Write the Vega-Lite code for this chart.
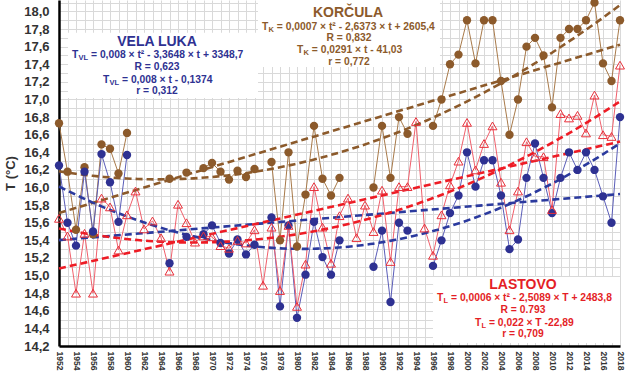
{
  "$schema": "https://vega.github.io/schema/vega-lite/v6.json",
  "width": 561,
  "height": 346,
  "autosize": {"type": "none"},
  "padding": {"left": 59, "top": 0, "right": 7, "bottom": 30},
  "background": "white",
  "config": {
    "view": {"stroke": null},
    "font": "Liberation Sans",
    "axis": {"gridColor": "#d9d9d9", "gridWidth": 1, "ticks": false, "domainColor": "#000000", "domainWidth": 2.5}
  },
  "datasets": {
    "temps": [
      {"year":1952,"station":"Korčula","T":16.73},{"year":1953,"station":"Korčula","T":16.18},{"year":1954,"station":"Korčula","T":15.52},{"year":1955,"station":"Korčula","T":16.23},{"year":1956,"station":"Korčula","T":15.47},{"year":1957,"station":"Korčula","T":16.49},{"year":1958,"station":"Korčula","T":16.44},{"year":1959,"station":"Korčula","T":16.16},{"year":1960,"station":"Korčula","T":16.62},
      {"year":1961,"station":"Korčula","T":null},{"year":1962,"station":"Korčula","T":null},{"year":1963,"station":"Korčula","T":null},{"year":1964,"station":"Korčula","T":null},
      {"year":1965,"station":"Korčula","T":16.10},{"year":1966,"station":"Korčula","T":null},{"year":1967,"station":"Korčula","T":16.17},{"year":1968,"station":"Korčula","T":null},{"year":1969,"station":"Korčula","T":16.22},{"year":1970,"station":"Korčula","T":16.28},{"year":1971,"station":"Korčula","T":16.18},{"year":1972,"station":"Korčula","T":16.09},{"year":1973,"station":"Korčula","T":16.19},{"year":1974,"station":"Korčula","T":16.12},{"year":1975,"station":"Korčula","T":16.21},{"year":1976,"station":"Korčula","T":null},{"year":1977,"station":"Korčula","T":16.29},{"year":1978,"station":"Korčula","T":15.40},{"year":1979,"station":"Korčula","T":16.40},{"year":1980,"station":"Korčula","T":15.33},{"year":1981,"station":"Korčula","T":15.92},{"year":1982,"station":"Korčula","T":16.70},{"year":1983,"station":"Korčula","T":16.10},{"year":1984,"station":"Korčula","T":15.91},{"year":1985,"station":"Korčula","T":16.11},
      {"year":1986,"station":"Korčula","T":null},{"year":1987,"station":"Korčula","T":null},{"year":1988,"station":"Korčula","T":null},
      {"year":1989,"station":"Korčula","T":16.00},{"year":1990,"station":"Korčula","T":16.70},{"year":1991,"station":"Korčula","T":16.11},{"year":1992,"station":"Korčula","T":16.80},{"year":1993,"station":"Korčula","T":16.61},{"year":1994,"station":"Korčula","T":null},{"year":1995,"station":"Korčula","T":null},{"year":1996,"station":"Korčula","T":16.70},{"year":1997,"station":"Korčula","T":17.00},{"year":1998,"station":"Korčula","T":17.40},{"year":1999,"station":"Korčula","T":17.51},{"year":2000,"station":"Korčula","T":17.90},{"year":2001,"station":"Korčula","T":17.41},{"year":2002,"station":"Korčula","T":17.90},{"year":2003,"station":"Korčula","T":17.90},{"year":2004,"station":"Korčula","T":17.21},{"year":2005,"station":"Korčula","T":16.60},{"year":2006,"station":"Korčula","T":17.00},{"year":2007,"station":"Korčula","T":17.60},{"year":2008,"station":"Korčula","T":17.70},{"year":2009,"station":"Korčula","T":17.50},{"year":2010,"station":"Korčula","T":16.91},{"year":2011,"station":"Korčula","T":17.70},{"year":2012,"station":"Korčula","T":17.80},{"year":2013,"station":"Korčula","T":17.80},{"year":2014,"station":"Korčula","T":17.90},{"year":2015,"station":"Korčula","T":18.10},{"year":2016,"station":"Korčula","T":17.41},{"year":2017,"station":"Korčula","T":17.21},{"year":2018,"station":"Korčula","T":17.90},

      {"year":1952,"station":"Vela Luka","T":16.25},{"year":1953,"station":"Vela Luka","T":15.60},{"year":1954,"station":"Vela Luka","T":15.34},{"year":1955,"station":"Vela Luka","T":16.18},{"year":1956,"station":"Vela Luka","T":15.50},{"year":1957,"station":"Vela Luka","T":16.38},{"year":1958,"station":"Vela Luka","T":16.06},{"year":1959,"station":"Vela Luka","T":15.61},{"year":1960,"station":"Vela Luka","T":16.37},
      {"year":1961,"station":"Vela Luka","T":null},{"year":1962,"station":"Vela Luka","T":null},{"year":1963,"station":"Vela Luka","T":null},{"year":1964,"station":"Vela Luka","T":null},
      {"year":1965,"station":"Vela Luka","T":15.14},{"year":1966,"station":"Vela Luka","T":null},{"year":1967,"station":"Vela Luka","T":15.44},{"year":1968,"station":"Vela Luka","T":null},{"year":1969,"station":"Vela Luka","T":15.47},{"year":1970,"station":"Vela Luka","T":15.57},{"year":1971,"station":"Vela Luka","T":15.37},{"year":1972,"station":"Vela Luka","T":15.25},{"year":1973,"station":"Vela Luka","T":15.41},{"year":1974,"station":"Vela Luka","T":15.24},{"year":1975,"station":"Vela Luka","T":15.35},{"year":1976,"station":"Vela Luka","T":null},{"year":1977,"station":"Vela Luka","T":15.66},{"year":1978,"station":"Vela Luka","T":14.65},{"year":1979,"station":"Vela Luka","T":15.57},{"year":1980,"station":"Vela Luka","T":14.52},{"year":1981,"station":"Vela Luka","T":15.01},{"year":1982,"station":"Vela Luka","T":15.61},{"year":1983,"station":"Vela Luka","T":15.21},{"year":1984,"station":"Vela Luka","T":15.01},{"year":1985,"station":"Vela Luka","T":15.40},
      {"year":1986,"station":"Vela Luka","T":null},{"year":1987,"station":"Vela Luka","T":null},{"year":1988,"station":"Vela Luka","T":null},
      {"year":1989,"station":"Vela Luka","T":15.10},{"year":1990,"station":"Vela Luka","T":15.51},{"year":1991,"station":"Vela Luka","T":14.70},{"year":1992,"station":"Vela Luka","T":15.60},{"year":1993,"station":"Vela Luka","T":15.51},{"year":1994,"station":"Vela Luka","T":null},{"year":1995,"station":"Vela Luka","T":null},{"year":1996,"station":"Vela Luka","T":15.11},{"year":1997,"station":"Vela Luka","T":15.40},{"year":1998,"station":"Vela Luka","T":15.71},{"year":1999,"station":"Vela Luka","T":15.91},{"year":2000,"station":"Vela Luka","T":16.40},{"year":2001,"station":"Vela Luka","T":16.01},{"year":2002,"station":"Vela Luka","T":16.31},{"year":2003,"station":"Vela Luka","T":16.31},{"year":2004,"station":"Vela Luka","T":15.91},{"year":2005,"station":"Vela Luka","T":15.30},{"year":2006,"station":"Vela Luka","T":15.41},{"year":2007,"station":"Vela Luka","T":16.11},{"year":2008,"station":"Vela Luka","T":16.50},{"year":2009,"station":"Vela Luka","T":16.11},{"year":2010,"station":"Vela Luka","T":15.71},{"year":2011,"station":"Vela Luka","T":16.11},{"year":2012,"station":"Vela Luka","T":16.40},{"year":2013,"station":"Vela Luka","T":16.20},{"year":2014,"station":"Vela Luka","T":16.40},{"year":2015,"station":"Vela Luka","T":16.20},{"year":2016,"station":"Vela Luka","T":15.90},{"year":2017,"station":"Vela Luka","T":15.60},{"year":2018,"station":"Vela Luka","T":16.80},

      {"year":1952,"station":"Lastovo","T":15.65},{"year":1953,"station":"Lastovo","T":15.45},{"year":1954,"station":"Lastovo","T":14.80},{"year":1955,"station":"Lastovo","T":15.48},{"year":1956,"station":"Lastovo","T":14.80},{"year":1957,"station":"Lastovo","T":15.88},{"year":1958,"station":"Lastovo","T":15.78},{"year":1959,"station":"Lastovo","T":15.29},{"year":1960,"station":"Lastovo","T":15.69},{"year":1961,"station":"Lastovo","T":15.96},{"year":1962,"station":"Lastovo","T":15.53},{"year":1963,"station":"Lastovo","T":15.62},{"year":1964,"station":"Lastovo","T":15.43},{"year":1965,"station":"Lastovo","T":15.05},{"year":1966,"station":"Lastovo","T":15.81},{"year":1967,"station":"Lastovo","T":15.60},{"year":1968,"station":"Lastovo","T":15.38},{"year":1969,"station":"Lastovo","T":15.45},{"year":1970,"station":"Lastovo","T":15.44},{"year":1971,"station":"Lastovo","T":15.34},{"year":1972,"station":"Lastovo","T":15.31},{"year":1973,"station":"Lastovo","T":15.40},{"year":1974,"station":"Lastovo","T":15.37},{"year":1975,"station":"Lastovo","T":15.52},{"year":1976,"station":"Lastovo","T":14.89},{"year":1977,"station":"Lastovo","T":15.55},{"year":1978,"station":"Lastovo","T":14.83},{"year":1979,"station":"Lastovo","T":15.57},{"year":1980,"station":"Lastovo","T":14.65},{"year":1981,"station":"Lastovo","T":15.13},{"year":1982,"station":"Lastovo","T":16.01},{"year":1983,"station":"Lastovo","T":15.55},{"year":1984,"station":"Lastovo","T":15.14},{"year":1985,"station":"Lastovo","T":15.68},{"year":1986,"station":"Lastovo","T":15.88},{"year":1987,"station":"Lastovo","T":15.43},{"year":1988,"station":"Lastovo","T":15.80},{"year":1989,"station":"Lastovo","T":15.50},{"year":1990,"station":"Lastovo","T":15.97},{"year":1991,"station":"Lastovo","T":15.16},{"year":1992,"station":"Lastovo","T":16.01},{"year":1993,"station":"Lastovo","T":16.01},{"year":1994,"station":"Lastovo","T":16.75},{"year":1995,"station":"Lastovo","T":15.54},{"year":1996,"station":"Lastovo","T":15.23},{"year":1997,"station":"Lastovo","T":15.69},{"year":1998,"station":"Lastovo","T":16.03},{"year":1999,"station":"Lastovo","T":16.30},{"year":2000,"station":"Lastovo","T":16.74},{"year":2001,"station":"Lastovo","T":16.20},{"year":2002,"station":"Lastovo","T":16.50},{"year":2003,"station":"Lastovo","T":16.70},{"year":2004,"station":"Lastovo","T":16.06},{"year":2005,"station":"Lastovo","T":15.52},{"year":2006,"station":"Lastovo","T":15.96},{"year":2007,"station":"Lastovo","T":16.52},{"year":2008,"station":"Lastovo","T":16.35},{"year":2009,"station":"Lastovo","T":16.35},{"year":2010,"station":"Lastovo","T":15.75},{"year":2011,"station":"Lastovo","T":16.84},{"year":2012,"station":"Lastovo","T":16.79},{"year":2013,"station":"Lastovo","T":16.82},{"year":2014,"station":"Lastovo","T":16.62},{"year":2015,"station":"Lastovo","T":17.05},{"year":2016,"station":"Lastovo","T":16.60},{"year":2017,"station":"Lastovo","T":16.58},{"year":2018,"station":"Lastovo","T":17.39}
    ],
    "boxes": [
      {"year":1953.06,"year2":1975.41,"T":17.757,"T2":17.018},
      {"year":1975.41,"year2":1996.82,"T":18.13,"T2":17.37},
      {"year":1996.0,"year2":2018.0,"T":14.984,"T2":14.234}
    ],
    "labels": [
      {"station":"Vela Luka","kind":"title","text":"VELA LUKA","year":1963.529,"T":17.6545},
      {"station":"Vela Luka","kind":"left","text":"T","year":1953.529,"T":17.5068},
      {"station":"Vela Luka","kind":"sub","text":"VL","year":1954.294,"T":17.5068},
      {"station":"Vela Luka","kind":"left","text":"= 0,008 × t² - 3,3648 × t + 3348,7","year":1955.765,"T":17.5068},
      {"station":"Vela Luka","kind":"center","text":"R = 0,623","year":1963.529,"T":17.3705},
      {"station":"Vela Luka","kind":"left","text":"T","year":1957.176,"T":17.2227},
      {"station":"Vela Luka","kind":"sub","text":"VL","year":1957.941,"T":17.2227},
      {"station":"Vela Luka","kind":"left","text":"= 0,008 × t - 0,1374","year":1959.412,"T":17.2227},
      {"station":"Vela Luka","kind":"center","text":"r = 0,312","year":1963.529,"T":17.0977},
      {"station":"Korčula","kind":"title","text":"KORČULA","year":1986.0,"T":17.984},
      {"station":"Korčula","kind":"left","text":"T","year":1975.882,"T":17.825},
      {"station":"Korčula","kind":"sub","text":"K","year":1976.647,"T":17.825},
      {"station":"Korčula","kind":"left","text":"= 0,0007 × t² - 2,6373 × t + 2605,4","year":1977.624,"T":17.825},
      {"station":"Korčula","kind":"center","text":"R = 0,832","year":1986.118,"T":17.7},
      {"station":"Korčula","kind":"left","text":"T","year":1980.0,"T":17.5636},
      {"station":"Korčula","kind":"sub","text":"K","year":1980.765,"T":17.5636},
      {"station":"Korčula","kind":"left","text":"= 0,0291 × t - 41,03","year":1981.741,"T":17.5636},
      {"station":"Korčula","kind":"center","text":"r = 0,772","year":1986.118,"T":17.4273},
      {"station":"Lastovo","kind":"title","text":"LASTOVO","year":2006.588,"T":14.893},
      {"station":"Lastovo","kind":"left","text":"T","year":1996.471,"T":14.745},
      {"station":"Lastovo","kind":"sub","text":"L","year":1997.235,"T":14.745},
      {"station":"Lastovo","kind":"left","text":"= 0,0006 × t² - 2,5089 × T + 2483,8","year":1998.118,"T":14.745},
      {"station":"Lastovo","kind":"center","text":"R = 0.793","year":2006.588,"T":14.609},
      {"station":"Lastovo","kind":"left","text":"T","year":2000.941,"T":14.461},
      {"station":"Lastovo","kind":"sub","text":"L","year":2001.706,"T":14.461},
      {"station":"Lastovo","kind":"left","text":"= 0,022 × T -22,89","year":2002.588,"T":14.461},
      {"station":"Lastovo","kind":"center","text":"r = 0,709","year":2006.588,"T":14.336}
    ]
  },
  "encoding": {
    "x": {
      "field": "year", "type": "quantitative",
      "scale": {"domain": [1952, 2018], "nice": false, "zero": false},
      "axis": {
        "title": null,
        "values": [1952,1953,1954,1955,1956,1957,1958,1959,1960,1961,1962,1963,1964,1965,1966,1967,1968,1969,1970,1971,1972,1973,1974,1975,1976,1977,1978,1979,1980,1981,1982,1983,1984,1985,1986,1987,1988,1989,1990,1991,1992,1993,1994,1995,1996,1997,1998,1999,2000,2001,2002,2003,2004,2005,2006,2007,2008,2009,2010,2011,2012,2013,2014,2015,2016,2017,2018],
        "labelExpr": "datum.value % 2 == 0 ? '' + datum.value : ''",
        "labelAngle": 90, "labelAlign": "left", "labelBaseline": "middle",
        "labelFontSize": 8.5, "labelFontWeight": "bold", "labelColor": "#333333",
        "labelPadding": 5, "labelOverlap": false, "labelFlush": false, "grid": true
      }
    },
    "y": {
      "field": "T", "type": "quantitative",
      "scale": {"domain": [14.2, 18.13], "nice": false, "zero": false},
      "axis": {
        "title": "T (°C)", "titleFontSize": 13, "titleFontWeight": "bold", "titleColor": "#333333", "titlePadding": 6,
        "values": [14.2,14.3,14.4,14.5,14.6,14.7,14.8,14.9,15.0,15.1,15.2,15.3,15.4,15.5,15.6,15.7,15.8,15.9,16.0,16.1,16.2,16.3,16.4,16.5,16.6,16.7,16.8,16.9,17.0,17.1,17.2,17.3,17.4,17.5,17.6,17.7,17.8,17.9,18.0,18.1],
        "labelExpr": "round(datum.value * 10) % 2 == 0 ? replace(format(datum.value, '.1f'), '.', ',') : ''",
        "labelFontSize": 13, "labelFontWeight": "bold", "labelColor": "#333333",
        "labelPadding": 10, "labelOverlap": false, "labelFlush": false, "grid": true
      }
    }
  },
  "layer": [
    {
      "data": {"name": "boxes"},
      "mark": {"type": "rect", "fill": "white", "stroke": null},
      "encoding": {"x2": {"field": "year2"}, "y2": {"field": "T2"}}
    },
    {
      "data": {"name": "temps"},
      "transform": [{"filter": "datum.station == 'Korčula'"}],
      "mark": {"type": "line", "color": "#a87a4a", "strokeWidth": 1, "invalid": "break-paths-filter-domains"}
    },
    {
      "data": {"name": "temps"},
      "transform": [{"filter": "datum.station == 'Vela Luka'"}],
      "mark": {"type": "line", "color": "#5a5db8", "strokeWidth": 1, "invalid": "break-paths-filter-domains"}
    },
    {
      "data": {"name": "temps"},
      "transform": [{"filter": "datum.station == 'Lastovo'"}],
      "mark": {"type": "line", "color": "#f0606c", "strokeWidth": 1, "invalid": "break-paths-filter-domains"}
    },
    {
      "data": {"name": "temps"},
      "transform": [{"filter": "datum.station == 'Korčula' && isValid(datum.T)"}, {"regression": "T", "on": "year", "method": "poly", "order": 2, "extent": [1952, 2018]}],
      "mark": {"type": "line", "color": "#8c5a2b", "strokeWidth": 2.6, "strokeDash": [7, 4]}
    },
    {
      "data": {"name": "temps"},
      "transform": [{"filter": "datum.station == 'Korčula' && isValid(datum.T)"}, {"regression": "T", "on": "year", "method": "linear", "extent": [1952, 2018]}],
      "mark": {"type": "line", "color": "#8c5a2b", "strokeWidth": 2.6, "strokeDash": [7, 4]}
    },
    {
      "data": {"name": "temps"},
      "transform": [{"filter": "datum.station == 'Vela Luka' && isValid(datum.T)"}, {"regression": "T", "on": "year", "method": "poly", "order": 2, "extent": [1952, 2018]}],
      "mark": {"type": "line", "color": "#2b3a9e", "strokeWidth": 2.6, "strokeDash": [7, 4]}
    },
    {
      "data": {"name": "temps"},
      "transform": [{"filter": "datum.station == 'Vela Luka' && isValid(datum.T)"}, {"regression": "T", "on": "year", "method": "linear", "extent": [1952, 2018]}],
      "mark": {"type": "line", "color": "#2b3a9e", "strokeWidth": 2.6, "strokeDash": [7, 4]}
    },
    {
      "data": {"name": "temps"},
      "transform": [{"filter": "datum.station == 'Lastovo' && isValid(datum.T)"}, {"regression": "T", "on": "year", "method": "poly", "order": 2, "extent": [1952, 2018]}],
      "mark": {"type": "line", "color": "#ee1c25", "strokeWidth": 2.6, "strokeDash": [7, 4]}
    },
    {
      "data": {"name": "temps"},
      "transform": [{"filter": "datum.station == 'Lastovo' && isValid(datum.T)"}, {"regression": "T", "on": "year", "method": "linear", "extent": [1952, 2018]}],
      "mark": {"type": "line", "color": "#ee1c25", "strokeWidth": 2.6, "strokeDash": [7, 4]}
    },
    {
      "data": {"name": "temps"},
      "transform": [{"filter": "datum.station == 'Korčula' && isValid(datum.T)"}],
      "mark": {"type": "point", "shape": "circle", "filled": true, "color": "#8c5a2b", "opacity": 1, "size": 70}
    },
    {
      "data": {"name": "temps"},
      "transform": [{"filter": "datum.station == 'Vela Luka' && isValid(datum.T)"}],
      "mark": {"type": "point", "shape": "circle", "filled": true, "color": "#2e3192", "opacity": 1, "size": 70}
    },
    {
      "data": {"name": "temps"},
      "transform": [{"filter": "datum.station == 'Lastovo' && isValid(datum.T)"}],
      "mark": {"type": "point", "shape": "triangle-up", "filled": false, "color": "#e8303a", "strokeWidth": 1, "opacity": 1, "size": 80}
    },
    {
      "data": {"name": "labels"},
      "transform": [{"filter": "datum.kind == 'title'"}],
      "mark": {"type": "text", "align": "center", "baseline": "middle", "fontSize": 14, "fontWeight": "bold"},
      "encoding": {
        "text": {"field": "text"},
        "color": {"field": "station", "type": "nominal", "scale": {"domain": ["Korčula", "Vela Luka", "Lastovo"], "range": ["#8c5a2b", "#2e3192", "#e41e26"]}, "legend": null}
      }
    },
    {
      "data": {"name": "labels"},
      "transform": [{"filter": "datum.kind == 'center'"}],
      "mark": {"type": "text", "align": "center", "baseline": "middle", "fontSize": 10.3, "fontWeight": "bold"},
      "encoding": {
        "text": {"field": "text"},
        "color": {"field": "station", "type": "nominal", "legend": null}
      }
    },
    {
      "data": {"name": "labels"},
      "transform": [{"filter": "datum.kind == 'left'"}],
      "mark": {"type": "text", "align": "left", "baseline": "middle", "fontSize": 10.3, "fontWeight": "bold"},
      "encoding": {
        "text": {"field": "text"},
        "color": {"field": "station", "type": "nominal", "legend": null}
      }
    },
    {
      "data": {"name": "labels"},
      "transform": [{"filter": "datum.kind == 'sub'"}],
      "mark": {"type": "text", "align": "left", "baseline": "middle", "fontSize": 7.5, "fontWeight": "bold", "dy": 3},
      "encoding": {
        "text": {"field": "text"},
        "color": {"field": "station", "type": "nominal", "legend": null}
      }
    }
  ]
}
